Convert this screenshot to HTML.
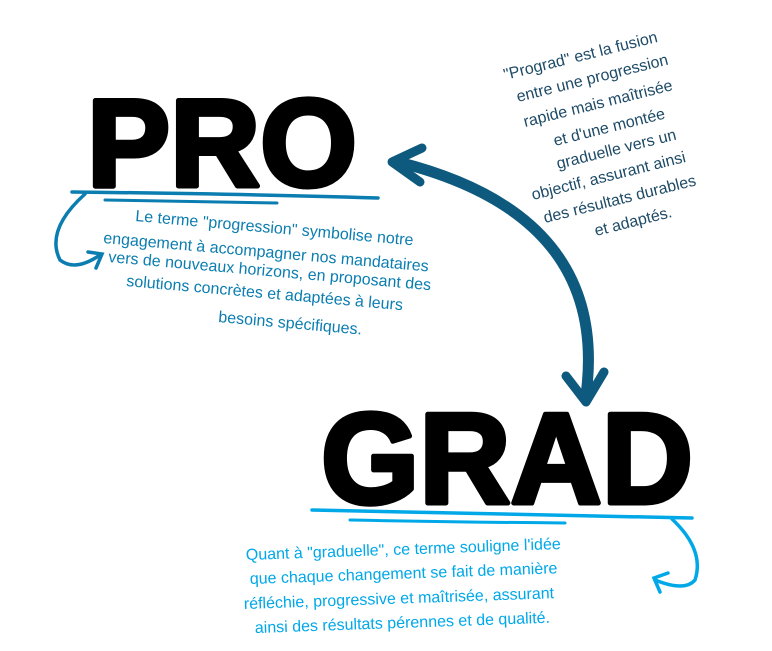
<!DOCTYPE html>
<html><head><meta charset="utf-8"><style>
html,body{margin:0;padding:0;background:#fff;}
svg{display:block;}
.h{font-family:"Liberation Sans",sans-serif;font-weight:bold;fill:#000;stroke:#000;stroke-width:5;stroke-linejoin:round;}
.t{font-family:"Liberation Sans",sans-serif;font-size:16px;}
</style></head><body>
<svg width="772" height="651" viewBox="0 0 772 651" xmlns="http://www.w3.org/2000/svg">
<text class="h" x="87" y="186" font-size="124" textLength="270" lengthAdjust="spacingAndGlyphs">PRO</text>
<text class="h" x="321" y="503" font-size="129" textLength="372" lengthAdjust="spacingAndGlyphs">GRAD</text>

<g stroke="#0b7db0" fill="none" stroke-linecap="round">
<path d="M72,192 Q250,194 378,198" stroke-width="3.5"/>
<path d="M105,200 Q200,202 277,203" stroke-width="3"/>
<path d="M85,194 Q45,230 60,260 Q75,272 100,255" stroke-width="3.5"/>
<path d="M88,252 L102,254 L96,268" stroke-width="3.5"/>
</g>
<g stroke="#00a8e8" fill="none" stroke-linecap="round">
<path d="M312,510 Q500,514 692,518" stroke-width="3.5"/>
<path d="M350,520 Q450,522 565,523" stroke-width="3"/>
<path d="M672,519 Q705,550 695,580 Q685,592 655,580" stroke-width="3.5"/>
<path d="M668,573 L654,578 L660,592" stroke-width="3.5"/>
</g>
<g stroke="#0e5a7e" fill="none" stroke-linecap="round" stroke-linejoin="round">
<path d="M398,162 Q610,215 586,395" stroke-width="11"/>
<path d="M422,148 L392,162 L420,182" stroke-width="9"/>
<path d="M566,376 L586,402 L604,372" stroke-width="9"/>
</g>

<g class="t" fill="#0b7db0">
<text transform="translate(135,221) rotate(5)">Le terme "progression" symbolise notre</text>
<text transform="translate(103,243) rotate(5)">engagement à accompagner nos mandataires</text>
<text transform="translate(108,262) rotate(5)">vers de nouveaux horizons, en proposant des</text>
<text transform="translate(126,286) rotate(5)">solutions concrètes et adaptées à leurs</text>
<text transform="translate(218,322) rotate(5)">besoins spécifiques.</text>
</g>
<g class="t" fill="#00a8e8">
<text transform="translate(246,560) rotate(-2)">Quant à "graduelle", ce terme souligne l'idée</text>
<text transform="translate(250,584) rotate(-2)">que chaque changement se fait de manière</text>
<text transform="translate(244,609) rotate(-2)">réfléchie, progressive et maîtrisée, assurant</text>
<text transform="translate(255,633) rotate(-2)">ainsi des résultats pérennes et de qualité.</text>
</g>
<g class="t" fill="#1d4a66" font-size="16">
<text transform="translate(505,80) rotate(-14)">"Prograd" est la fusion</text>
<text transform="translate(518,102) rotate(-14)">entre une progression</text>
<text transform="translate(525,127) rotate(-14)">rapide mais maîtrisée</text>
<text transform="translate(555,146) rotate(-14)">et d'une montée</text>
<text transform="translate(558,169) rotate(-14)">graduelle vers un</text>
<text transform="translate(533,200) rotate(-14)">objectif, assurant ainsi</text>
<text transform="translate(545,223) rotate(-14)">des résultats durables</text>
<text transform="translate(596,236) rotate(-14)">et adaptés.</text>
</g>
</svg>
</body></html>
